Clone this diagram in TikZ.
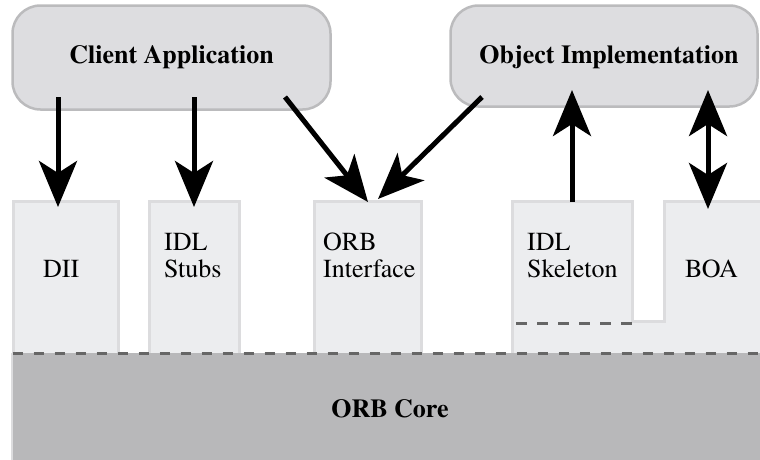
\documentclass[tikz,border=0pt]{standalone}
\usepackage{fontspec}
\setmainfont{texgyretermes}[Extension=.otf, UprightFont=*-regular, BoldFont=*-bold,
  ItalicFont=*-italic, BoldItalicFont=*-bolditalic]
\usetikzlibrary{arrows.meta}

\definecolor{topfill}{HTML}{DDDDE0}
\definecolor{topedge}{HTML}{BBBBBD}
\definecolor{boxfill}{HTML}{ECEDEF}
\definecolor{boxedge}{HTML}{DCDCDE}
\definecolor{corefill}{HTML}{B8B8BA}
\definecolor{seam}{HTML}{666666}

\tikzset{
  topbox/.style={rectangle, rounded corners=28pt, fill=topfill, draw=topedge,
    line width=2.5pt, inner sep=0pt},
  layerbox/.style={fill=boxfill, draw=boxedge, line width=3pt},
  label/.style={font=\rmfamily\fontsize{26}{27}\selectfont, inner sep=0pt, align=left, anchor=base west},
  title/.style={font=\rmfamily\fontsize{26}{27}\selectfont\bfseries, inner sep=0pt},
  seamline/.style={draw=seam, line width=3pt, dash pattern=on 10.5pt off 10.5pt},
  flow/.style={line width=5pt, -{Stealth[length=46pt, width=38pt, inset=12pt]}},
  bothflow/.style={line width=5pt, {Stealth[length=46pt, width=38pt, inset=12pt]}-{Stealth[length=46pt, width=38pt, inset=12pt]}}
}

\begin{document}
\begin{tikzpicture}[x=1pt, y=-1pt]
  \useasboundingbox (0,0) rectangle (760,459);

  % upper layer boxes
  \path[layerbox] (13.5,201.5) rectangle (118.5,356);
  \path[layerbox] (149.5,201.5) rectangle (239.5,356);
  \path[layerbox] (314.5,201.5) rectangle (421.5,356);
  \path[layerbox] (512.5,356) -- (512.5,201.5) -- (632.5,201.5) -- (632.5,321.5)
    -- (664.5,321.5) -- (664.5,201.5) -- (765,201.5) -- (765,356);
  \draw[seamline] (516,323) -- (633,323);

  % ORB core
  \path[fill=corefill] (12,353) rectangle (765,465);
  \draw[boxedge, line width=2pt] (12,353) -- (12,465);
  \draw[seamline] (12.5,353) -- (760,353);
  \node[title] (core) at (390,409) {ORB Core};

  % labels of the upper layer
  \node[label] (dii) at (43,277) {DII};
  \node[label] (stubs) at (164,277) {IDL\\Stubs};
  \node[label] (iface) at (323,277) {ORB\\Interface};
  \node[label] (skel) at (527,277) {IDL\\Skeleton};
  \node[label] (boa) at (685,277) {BOA};

  % top boxes
  \node[topbox, minimum width=318pt, minimum height=104pt] (client) at (171.5,57.5) {};
  \node[title] (clientlbl) at (171.5,57) {Client Application};
  \node[topbox, minimum width=307pt, minimum height=101pt] (objimpl) at (604,56) {};
  \node[title] (objlbl) at (609,57) {Object Implementation};

  % arrow end points
  \coordinate (c1) at (58,97);   \coordinate (d1) at (58,207);
  \coordinate (c2) at (194,97);  \coordinate (d2) at (194,207);
  \coordinate (c3) at (285,97);  \coordinate (d3) at (368,202);
  \coordinate (o1) at (482,97);  \coordinate (d4) at (378,199);
  \coordinate (s1) at (572,202); \coordinate (o2) at (572,90);
  \coordinate (o3) at (708,90);  \coordinate (b1) at (708,209);

  \draw[flow] (c1) -- (d1);
  \draw[flow] (c2) -- (d2);
  \draw[flow] (c3) -- (d3);
  \draw[flow] (o1) -- (d4);
  \draw[flow] (s1) -- (o2);
  \draw[bothflow] (o3) -- (b1);
\end{tikzpicture}
\end{document}
